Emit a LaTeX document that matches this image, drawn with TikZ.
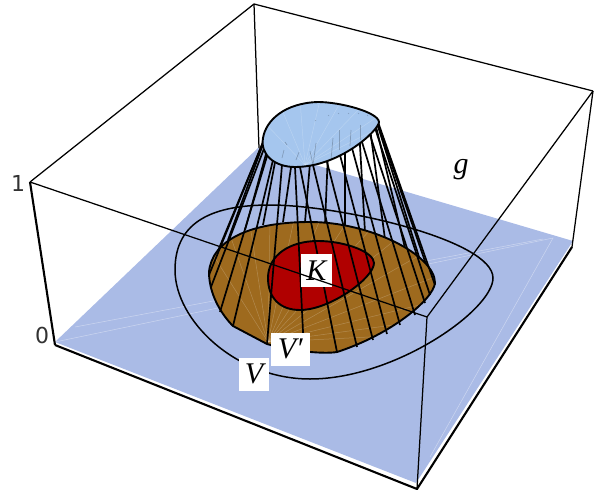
\documentclass[tikz,border=0pt]{standalone}
\usepackage{fontspec}
\setmainfont{Liberation Serif}
\newfontfamily\axisfont{DejaVu Sans}
\definecolor{planeblue}{RGB}{170,187,230}
\definecolor{capblue}{RGB}{165,198,238}
\definecolor{vbrown}{RGB}{158,106,30}
\definecolor{kred}{RGB}{176,0,0}
\definecolor{axisgray}{RGB}{50,50,50}
\tikzset{
  boxedge/.style={line width=1.25pt,black},
  boxthick/.style={line width=2.1pt,black},
  ruling/.style={line width=1.7pt,black},
  outline/.style={line width=1.9pt,black},
  pale/.style={white,opacity=0.22,line width=0.5pt},
  lab/.style={fill=white,inner sep=0pt,text=black,font=\fontsize{30}{30}\selectfont\itshape},
  axlab/.style={inner sep=0pt,text=axisgray,font=\fontsize{22}{22}\selectfont\axisfont}
}
\def\cappath{(263,138) .. controls (266,120) and (285,103) .. (318,102) .. controls (340,102) and (378,112) .. (379,122) .. controls (379,130) and (340,167) .. (295,167) .. controls (275,167) and (260,155) .. (263,138) -- cycle}
\def\brownpath{(209,272) .. controls (212,240) and (250,222) .. (310,222) .. controls (370,222) and (435,255) .. (435,283) .. controls (433,300) and (390,335) .. (337,352) .. controls (325,354) and (295,352) .. (267,344) -- (233,326) .. controls (222,315) and (209,295) .. (209,272) -- cycle}
\def\kpath{(268,278) .. controls (268,255) and (290,241) .. (318,241) .. controls (345,241) and (374,252) .. (374,263) .. controls (374,278) and (330,310) .. (300,310) .. controls (280,310) and (268,298) .. (268,278) -- cycle}
\def\vpath{(175,270) .. controls (175,220) and (215,205) .. (270,205) .. controls (340,205) and (493,240) .. (493,278) .. controls (493,310) and (395,379) .. (310,379) .. controls (235,379) and (175,320) .. (175,270) -- cycle}
\begin{document}
\begin{tikzpicture}[x=1pt,y=-1pt]
\useasboundingbox (0,0) rectangle (595,490);
% box corners
\coordinate (A) at (30,182);
\coordinate (B) at (254,4);
\coordinate (C) at (593,91);
\coordinate (D) at (427,317);
\coordinate (E) at (55,345);
\coordinate (F) at (417,489);
\coordinate (G) at (572,247);
\coordinate (H) at (259,148);
% back edges
\draw[boxedge] (A) -- (B) -- (C);
\draw[boxedge] (B) -- (H);
% plane
\fill[planeblue] (55,342) -- (258,148) -- (573,241) -- (416,483) -- cycle;
\draw[pale,opacity=0.4] (55,342) -- (553,238) -- (430,457);
\draw[pale,opacity=0.4] (75,327) -- (543,239);
% V contour
\draw[outline,line width=1.5pt] \vpath;
% back rulings
\foreach \a/\b/\c/\d in {215/258/268/130, 228/240/270/125, 245/230/276/118, 263/225/285/110, 283/222/300/106, 305/222/315/104, 325/224/330/105, 345/227/345/108, 365/232/358/111, 385/239/368/114, 405/248/374/118, 420/260/376/120, 428/270/377/122}
  \draw[ruling] (\a,\b) -- (\c,\d);
% V' region
\fill[vbrown] \brownpath;
\begin{scope}
\clip \brownpath;
\foreach \x/\y in {210/250,230/235,250/225,270/220,295/215,320/220,345/225,370/230,395/240,420/255,440/275,440/300,430/320,410/335}
  \draw[pale] (268,342) -- (\x,\y);
\end{scope}
\draw[outline] \brownpath;
% K region
\fill[kred] \kpath;
\draw[outline] \kpath;
% front rulings
\foreach \a/\b/\c/\d in {209/275/264/140, 211/287/265/146, 220/312/268/153, 233/326/273/160, 267/344/282/165, 304/352/295/167, 337/352/300/167, 357/347/313/165, 373/340/327/162, 387/334/340/155, 400/325/352/148, 415/315/362/142, 425/303/370/135, 430/295/375/128, 435/285/378/122}
  \draw[ruling] (\a,\b) -- (\c,\d);
% cap
\fill[capblue] \cappath;
\begin{scope}
\clip \cappath;
\foreach \x/\y in {262/120,280/105,300/100,320/100,340/103,360/108,380/115,385/125}
  \draw[pale] (305,165) -- (\x,\y);
\foreach \a/\b/\c/\d in {285/142/287/145, 296/160/299/152, 284/150/282/158, 310/151/313/165, 316/143/313/165, 333/138/331/160, 315/120/316/121, 328/115/329/116, 338/113/339/114, 348/113/349/114, 358/113/359/114, 367/115/368/116, 339/130/339/150, 351/130/350/146, 360/125/360/140}
  \draw[black,opacity=0.22,line width=0.7pt] (\a,\b) -- (\c,\d);
\end{scope}
\draw[outline] \cappath;
% labels
\node[lab,minimum width=31pt,minimum height=33pt] (lk) at (316.3,270.3) {K};
\node[lab,minimum width=39pt,minimum height=33pt] (lvp) at (290.3,349.3) {V\char"2032};
\node[lab,minimum width=30pt,minimum height=33pt] (lv) at (254,374) {V};
\node[inner sep=0pt,text=black,font=\fontsize{30}{30}\selectfont\itshape] (lg) at (461,170) {g};
\node[axlab] (l1) at (18,183) {1};
\node[axlab] (l0) at (42,335) {0};
% front edges
\draw[boxedge] (A) -- (D) -- (C);
\draw[boxedge] (D) -- (F);
\draw[boxedge] (C) -- (G);
\draw[boxthick] (A) -- (E);
\draw[boxthick] (E) -- (F) -- (G);
\end{tikzpicture}
\end{document}
